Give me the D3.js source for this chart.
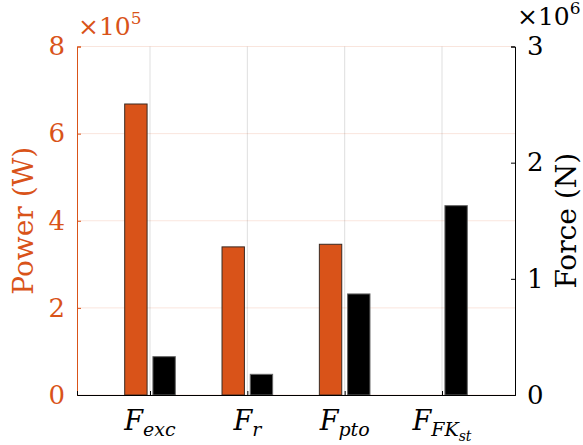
<!DOCTYPE html>
<html>
<head>
<meta charset="utf-8">
<script src="https://cdn.jsdelivr.net/npm/d3@7"></script>
<style>
  html, body { margin: 0; padding: 0; background: #fff; }
  svg { display: block; overflow: visible; }
</style>
</head>
<body>
<div id="chart"></div>
<script>
// Data (power in 1e5 W, force in 1e6 N)
const categories = ["exc", "r", "pto", "FKst"];
const powerValues = [6.68, 3.40, 3.46, 0];
const forceValues = [0.33, 0.178, 0.87, 1.63];
const powerTicks = [0, 2, 4, 6, 8];
const forceTicks = [0, 1, 2, 3];

const orange = "#D95319";
const serif = "'DejaVu Serif', serif";

// Dimensions
const width = 583;
const height = 445;
const margin = {top: 46.5, right: 68, bottom: 50, left: 77};
const innerWidth = width - margin.left - margin.right;
const innerHeight = height - margin.top - margin.bottom;

const svg = d3.select("#chart")
  .append("svg")
    .attr("width", width)
    .attr("height", height)
    .attr("viewBox", [0, 0, width, height])
    .attr("font-family", serif);

const innerChart = svg
  .append("g")
    .attr("transform", `translate(${margin.left}, ${margin.top})`);

// Scales
const xScale = d3.scaleLinear()
  .domain([0.25, 4.75])
  .range([0, innerWidth]);
const yLeft = d3.scaleLinear()
  .domain([0, 8])
  .range([innerHeight, 0]);
const yRight = d3.scaleLinear()
  .domain([0, 3])
  .range([innerHeight, 0]);

const barW = xScale(0.23) - xScale(0);
const offset = xScale(0.145) - xScale(0);
const catPos = categories.map((c, i) => i + 1);

// Grid lines
innerChart.selectAll(".hgrid")
  .data(powerTicks)
  .join("line")
    .attr("x1", 0).attr("x2", innerWidth)
    .attr("y1", d => yLeft(d)).attr("y2", d => yLeft(d))
    .attr("stroke", orange)
    .attr("stroke-opacity", 0.15);

innerChart.selectAll(".vgrid")
  .data(catPos)
  .join("line")
    .attr("x1", d => xScale(d)).attr("x2", d => xScale(d))
    .attr("y1", 0).attr("y2", innerHeight)
    .attr("stroke", "#262626")
    .attr("stroke-opacity", 0.15);

// Bars - power
innerChart.selectAll(".bar-power")
  .data(powerValues)
  .join("rect")
    .attr("class", "bar-power")
    .attr("x", (d, i) => xScale(catPos[i]) - offset - barW / 2)
    .attr("y", d => yLeft(d))
    .attr("width", barW)
    .attr("height", d => innerHeight - yLeft(d))
    .attr("fill", orange)
    .attr("stroke", d => d > 0 ? "#3a2a22" : "#999")
    .attr("stroke-width", 1);

// Bars - force
innerChart.selectAll(".bar-force")
  .data(forceValues)
  .join("rect")
    .attr("class", "bar-force")
    .attr("x", (d, i) => xScale(catPos[i]) + offset - barW / 2)
    .attr("y", d => yRight(d))
    .attr("width", barW)
    .attr("height", d => innerHeight - yRight(d))
    .attr("fill", "#000")
    .attr("stroke", "#666")
    .attr("stroke-width", 1);

// Axes
const fontSize = 26;
const titleSize = 28;

const leftAxis = d3.axisLeft(yLeft)
  .tickValues(powerTicks)
  .tickFormat(d3.format("d"))
  .tickSize(-4)
  .tickPadding(12);
const gLeft = innerChart.append("g").call(leftAxis)
  .attr("font-family", serif)
  .attr("font-size", fontSize);
gLeft.select(".domain").attr("stroke", orange);
gLeft.selectAll(".tick line").attr("stroke", orange);
gLeft.selectAll(".tick text").attr("fill", orange);

const rightAxis = d3.axisRight(yRight)
  .tickValues(forceTicks)
  .tickFormat(d3.format("d"))
  .tickSize(-4)
  .tickPadding(12);
const gRight = innerChart.append("g")
  .attr("transform", `translate(${innerWidth}, 0)`)
  .call(rightAxis)
  .attr("font-family", serif)
  .attr("font-size", fontSize);
gRight.select(".domain").attr("stroke", "#000");
gRight.selectAll(".tick line").attr("stroke", "#000");
gRight.selectAll(".tick text").attr("fill", "#000");

const bottomAxis = d3.axisBottom(xScale)
  .tickValues(catPos)
  .tickSize(-4)
  .tickFormat("");
const gBottom = innerChart.append("g")
  .attr("transform", `translate(0, ${innerHeight})`)
  .call(bottomAxis);
gBottom.select(".domain").attr("stroke", "#000");
gBottom.selectAll(".tick line").attr("stroke", "#000");

// x labels with subscripts
const xLabels = innerChart.selectAll(".xlabel")
  .data(categories)
  .join("text")
    .attr("class", "xlabel")
    .attr("x", (d, i) => xScale(catPos[i]))
    .attr("y", innerHeight + 35)
    .attr("text-anchor", "middle")
    .attr("font-size", 27)
    .attr("font-style", "italic");

xLabels.each(function(d) {
  const t = d3.select(this);
  t.append("tspan").text("F");
  if (d === "FKst") {
    t.append("tspan").text("FK").attr("dy", 6).attr("font-size", 19);
    t.append("tspan").text("st").attr("dy", 5).attr("font-size", 14);
  } else {
    t.append("tspan").text(d).attr("dy", 6).attr("font-size", 19);
  }
});

// Axis titles
svg.append("text")
  .attr("transform", `translate(${33}, ${margin.top + innerHeight / 2}) rotate(-90)`)
  .attr("text-anchor", "middle")
  .attr("fill", orange)
  .attr("font-size", titleSize)
  .text("Power (W)");

svg.append("text")
  .attr("transform", `translate(${576}, ${margin.top + innerHeight / 2}) rotate(-90)`)
  .attr("text-anchor", "middle")
  .attr("fill", "#000")
  .attr("font-size", titleSize)
  .text("Force (N)");

// Exponent labels
const expLeft = svg.append("text")
  .attr("x", margin.left + 1)
  .attr("y", 35)
  .attr("fill", orange)
  .attr("font-size", 25);
expLeft.append("tspan").text("×10");
expLeft.append("tspan").text("5").attr("dy", -11).attr("font-size", 17);

const expRight = svg.append("text")
  .attr("x", 517)
  .attr("y", 25)
  .attr("fill", "#000")
  .attr("font-size", 25);
expRight.append("tspan").text("×10");
expRight.append("tspan").text("6").attr("dy", -11).attr("font-size", 17);
</script>
</body>
</html>
